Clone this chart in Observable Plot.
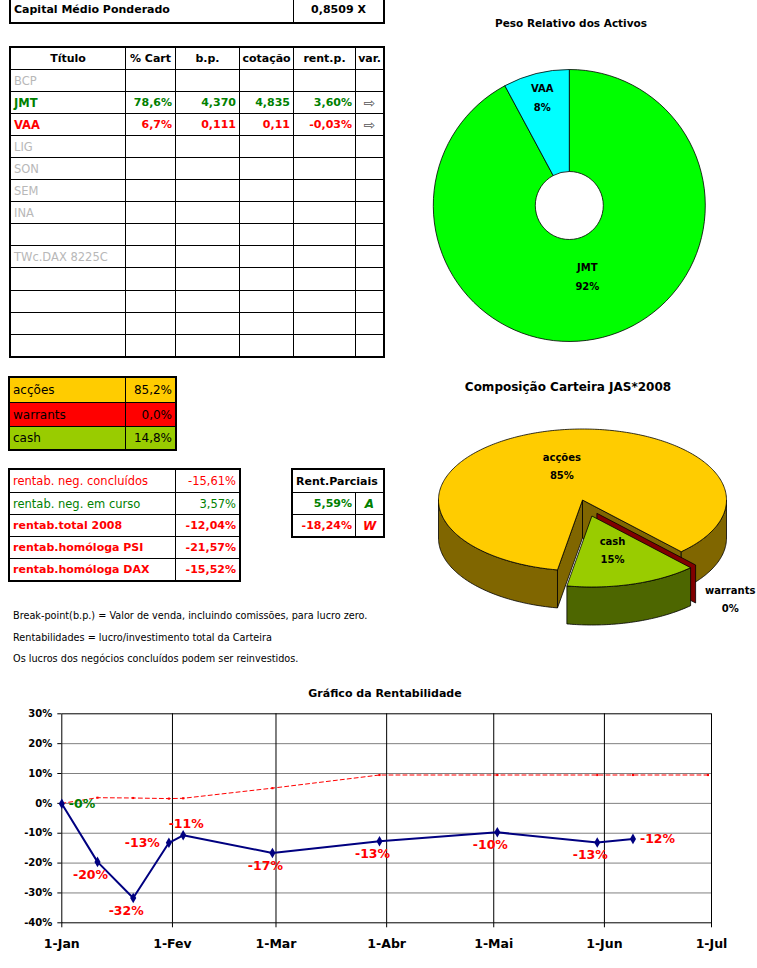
<!DOCTYPE html>
<html><head><meta charset="utf-8">
<script src="https://cdn.jsdelivr.net/npm/d3@7"></script>
<script src="https://cdn.jsdelivr.net/npm/@observablehq/plot@0.6"></script>
<style>
body{margin:0;background:#fff;}
#page{position:relative;width:757px;height:968px;overflow:hidden;font-family:"DejaVu Sans",sans-serif;background:#fff;}
.cell{position:absolute;box-sizing:border-box;border:1px solid #000;white-space:nowrap;overflow:hidden;padding:0 3px;display:flex;align-items:center;}
.frame{position:absolute;box-sizing:border-box;border:2px solid #000;pointer-events:none;}
.ttl{position:absolute;transform:translate(-50%,-50%);white-space:nowrap;font-weight:bold;color:#000;}
.note{position:absolute;left:13px;white-space:nowrap;font-size:9.7px;color:#000;transform:translateY(-50%);}
</style></head><body><div id="page"></div>
<script>
// ---------------- DATA ----------------
const capitalLabel = "Capital Médio Ponderado";
const capitalValue = "0,8509 X";

const tableHeader = ["Título", "% Cart", "b.p.", "cotação", "rent.p.", "var."];
const titles   = ["BCP", "JMT", "VAA", "LIG", "SON", "SEM", "INA", "", "TWc.DAX 8225C", "", "", "", ""];
const pctCart  = ["", "78,6%", "6,7%", "", "", "", "", "", "", "", "", "", ""];
const bpVals   = ["", "4,370", "0,111", "", "", "", "", "", "", "", "", "", ""];
const cotacao  = ["", "4,835", "0,11", "", "", "", "", "", "", "", "", "", ""];
const rentP    = ["", "3,60%", "-0,03%", "", "", "", "", "", "", "", "", "", ""];
const varSign  = ["", "⇨", "⇨", "", "", "", "", "", "", "", "", "", ""];

const allocLabels = ["acções", "warrants", "cash"];
const allocValues = [85.2, 0.0, 14.8];

const rentLabels = ["rentab. neg. concluídos", "rentab. neg. em curso", "rentab.total 2008", "rentab.homóloga PSI", "rentab.homóloga DAX"];
const rentValues = [-15.61, 3.57, -12.04, -21.57, -15.52];

const parcTitle = "Rent.Parciais";
const parcValues = [5.59, -18.24];
const parcCodes = ["A", "W"];

const notes = [
  "Break-point(b.p.) = Valor de venda, incluindo comissões, para lucro zero.",
  "Rentabilidades = lucro/investimento total da Carteira",
  "Os lucros dos negócios concluídos podem ser reinvestidos."
];

const donutTitle = "Peso Relativo dos Activos";
const assetNames = ["JMT", "VAA"];
const assetWeights = [78.6, 6.7];

const compTitle = "Composição Carteira JAS*2008";
const compNames = ["acções", "warrants", "cash"];
const compValues = [85.2, 0.0, 14.8];

const chartTitle = "Gráfico da Rentabilidade";
const rentDates  = ["2008-01-01","2008-01-11","2008-01-21","2008-01-31","2008-02-04","2008-02-29","2008-03-30","2008-05-02","2008-05-30","2008-06-09"];
const rentSeries = [-0.001, -0.196, -0.317, -0.132, -0.107, -0.166, -0.127, -0.097, -0.131, -0.119];
const rentPointLabels = ["-0%","-20%","-32%","-13%","-11%","-17%","-13%","-10%","-13%","-12%"];
const labelPlace = ["right","below","below","left","above","below","below","below","below","right"];
const benchDates  = ["2008-01-01","2008-01-11","2008-01-21","2008-01-31","2008-02-04","2008-02-29","2008-03-30","2008-05-02","2008-05-30","2008-06-09","2008-06-30"];
const benchSeries = [0.000, 0.019, 0.018, 0.016, 0.017, 0.051, 0.095, 0.095, 0.095, 0.095, 0.095];
const monthStarts = ["2008-01-01","2008-02-01","2008-03-01","2008-04-01","2008-05-01","2008-06-01","2008-07-01"];
const monthLabels = ["1-Jan","1-Fev","1-Mar","1-Abr","1-Mai","1-Jun","1-Jul"];
const yTicks = [-0.4,-0.3,-0.2,-0.1,0,0.1,0.2,0.3];
const yTickLabels = ["-40%","-30%","-20%","-10%","0%","10%","20%","30%"];

// ---------------- HELPERS ----------------
const page = document.getElementById("page");
const GREEN = "#008000", RED = "#ff0000", GRAY = "#b8b8b8";
const fmtPct2 = v => v.toFixed(2).replace(".", ",") + "%";
const fmtPct1 = v => v.toFixed(1).replace(".", ",") + "%";

function div(cls, css, text) {
  const d = document.createElement("div");
  if (cls) d.className = cls;
  Object.assign(d.style, css);
  if (text != null) d.textContent = text;
  page.appendChild(d);
  return d;
}
function grid(xsIn, ysIn, rows) {
  const xs = xsIn.map(Math.round), ys = ysIn.map(Math.round);
  rows.forEach((row, j) => {
    let i = 0;
    row.forEach(c => {
      const span = c.span || 1;
      const x0 = xs[i], x1 = xs[i + span], y0 = ys[j], y1 = ys[j + 1];
      div("cell", {
        left: x0 + "px", top: y0 + "px", width: (x1 - x0 + 1) + "px", height: (y1 - y0 + 1) + "px",
        justifyContent: c.align === "right" ? "flex-end" : c.align === "center" ? "center" : "flex-start",
        color: c.color || "#000", fontWeight: c.bold ? "bold" : "normal", fontSize: (c.size || 11) + "px",
        background: c.bg || "transparent", fontStyle: c.italic ? "italic" : "normal"
      }, c.text || "");
      i += span;
    });
  });
  div("frame", {left: (xs[0] - 1) + "px", top: (ys[0] - 1) + "px",
    width: (xs[xs.length - 1] - xs[0] + 3) + "px", height: (ys[ys.length - 1] - ys[0] + 3) + "px"});
}

// ---------------- TABLES ----------------
grid([10, 293, 383], [-4, 22], [[
  {text: capitalLabel, bold: true, size: 11},
  {text: capitalValue, bold: true, size: 11, align: "center"}
]]);

const mainXs = [10, 125, 175, 239, 293, 355, 383];
const mainYs = [47, 69]; for (let k = 1; k <= titles.length; k++) mainYs.push(69 + k * 22.05);
const mainRows = [tableHeader.map(h => ({text: h, bold: true, align: "center", size: 11}))];
titles.forEach((t, j) => {
  const col = rentP[j] === "" ? GRAY : (rentP[j].startsWith("-") ? RED : GREEN);
  mainRows.push([
    {text: t, color: col, bold: rentP[j] !== "", size: 11.5},
    {text: pctCart[j], color: col, bold: true, align: "right"},
    {text: bpVals[j], color: col, bold: true, align: "right"},
    {text: cotacao[j], color: col, bold: true, align: "right"},
    {text: rentP[j], color: col, bold: true, align: "right"},
    {text: varSign[j], color: "#555", align: "center", size: 14}
  ]);
});
grid(mainXs, mainYs, mainRows);

const allocColors = {"acções": "#ffcc00", "warrants": "#ff0000", "cash": "#99cc00"};
grid([9, 125, 175], [377, 402, 426, 449],
  allocLabels.map((l, i) => [
    {text: l, bg: allocColors[l], size: 12},
    {text: fmtPct1(allocValues[i]), bg: allocColors[l], size: 12, align: "right"}
  ]));

const rentBold = [false, false, true, true, true];
grid([9, 175, 239], [469, 492, 514, 536, 558, 580],
  rentLabels.map((l, i) => {
    const col = rentValues[i] < 0 ? RED : GREEN;
    return [
      {text: l, color: col, bold: rentBold[i], size: rentBold[i] ? 11 : 11.5},
      {text: fmtPct2(rentValues[i]), color: col, bold: rentBold[i], size: rentBold[i] ? 11 : 11.5, align: "right"}
    ];
  }));

grid([292, 355, 383], [469, 492, 514, 536], [
  [{text: parcTitle, bold: true, span: 2, size: 11}],
  ...parcValues.map((v, i) => {
    const col = v < 0 ? RED : GREEN;
    return [{text: fmtPct2(v), color: col, bold: true, align: "right"},
            {text: parcCodes[i], color: col, bold: true, align: "center", italic: true, size: 12}];
  })
]);

[615, 637, 658].forEach((y, i) => div("note", {top: y + "px"}, notes[i]));

// ---------------- DONUT ----------------
div("ttl", {left: "571px", top: "23px", fontSize: "10.5px"}, donutTitle);
{
  const svg = d3.select(page).append("svg").attr("width", 337).attr("height", 360)
    .style("position", "absolute").style("left", "420px").style("top", "0px");
  const total = d3.sum(assetWeights);
  const data = assetNames.map((n, i) => ({name: n, v: assetWeights[i]}));
  const arcs = d3.pie().sort(null).value(d => d.v)(data);
  const arc = d3.arc().innerRadius(34).outerRadius(136);
  const colors = {JMT: "#00ff00", VAA: "#00ffff"};
  const g = svg.append("g").attr("transform", "translate(149.3,205.5)");
  g.selectAll("path").data(arcs).join("path").attr("d", arc)
    .attr("fill", d => colors[d.data.name]).attr("stroke", "#000").attr("stroke-width", 0.8);
  arcs.forEach(a => {
    const r = (a.endAngle - a.startAngle) < 0.6 ? 111 : 74;
    const m = (a.startAngle + a.endAngle) / 2;
    const x = r * Math.sin(m), y = -r * Math.cos(m);
    const t = g.append("text").attr("text-anchor", "middle").attr("font-weight", "bold")
      .attr("font-size", 10).attr("font-family", "DejaVu Sans");
    t.append("tspan").attr("x", x).attr("y", y - 6).text(a.data.name);
    t.append("tspan").attr("x", x).attr("y", y + 13).text(Math.round(a.data.v / total * 100) + "%");
  });
}

// ---------------- 3D PIE ----------------
div("ttl", {left: "568px", top: "387px", fontSize: "12px"}, compTitle);
{
  const ox = 420, oy = 370;
  const svg = d3.select(page).append("svg").attr("width", 337).attr("height", 260)
    .style("position", "absolute").style("left", ox + "px").style("top", oy + "px");
  const cx = 582.5 - ox, cy = 500 - oy, rx = 144, ry = 71, depth = 38;
  const firstAngle = 190;
  const explodeOffset = {"acções": [0, 0], "warrants": [14.4, 13.3], "cash": [9.4, 16]};
  const topC = {"acções": "#ffcc00", "warrants": "#ff0000", "cash": "#99cc00"};
  const sideC = {"acções": "#806600", "warrants": "#800000", "cash": "#4d6600"};
  const total = d3.sum(compValues);
  let acc = firstAngle;
  const rad = Math.PI / 180;
  const slices = compNames.map((n, i) => {
    const span = compValues[i] / total * 360, a0 = acc, a1 = acc + span; acc = a1;
    return {name: n, v: compValues[i], a0, a1, mid: (a0 + a1) / 2, off: explodeOffset[n]};
  });
  const P = (s, th, r, h) => [cx + s.off[0] + rx * r * Math.sin(th * rad), cy + s.off[1] - ry * r * Math.cos(th * rad) + h * depth];
  const arcPts = (s, a, b, h) => { const n = Math.max(2, Math.ceil(Math.abs(b - a))); return d3.range(n + 1).map(k => P(s, a + (b - a) * k / n, 1, h)); };
  const poly = pts => "M" + pts.map(p => p[0].toFixed(2) + "," + p[1].toFixed(2)).join("L") + "Z";
  const draw = (d, fill) => svg.append("path").attr("d", d).attr("fill", fill).attr("stroke", "#000").attr("stroke-width", 0.8).attr("stroke-linejoin", "round");
  ["acções", "warrants", "cash"].forEach(name => {
    const s = slices.find(q => q.name === name);
    if (Math.sin(s.a0 * rad) < 0 && s.a1 > s.a0) draw(poly([P(s, s.a0, 0, 0), P(s, s.a0, 1, 0), P(s, s.a0, 1, 1), P(s, s.a0, 0, 1)]), sideC[name]);
    if (Math.sin(s.a1 * rad) > 0) draw(poly([P(s, s.a1, 0, 0), P(s, s.a1, 1, 0), P(s, s.a1, 1, 1), P(s, s.a1, 0, 1)]), sideC[name]);
    [[90, 270], [450, 630]].forEach(([w0, w1]) => {
      const lo = Math.max(s.a0, w0), hi = Math.min(s.a1, w1);
      if (hi > lo) draw(poly(arcPts(s, lo, hi, 0).concat(arcPts(s, hi, lo, 1))), sideC[name]);
    });
    if (s.a1 > s.a0) draw(poly([P(s, s.a0, 0, 0)].concat(arcPts(s, s.a0, s.a1, 0))), topC[name]);
  });
  slices.forEach(s => {
    const p = s.v > 0 ? P(s, s.mid, 0.5, 0) : P(s, s.mid, 1.35, 0.43);
    const t = svg.append("text").attr("text-anchor", "middle").attr("font-weight", "bold")
      .attr("font-size", 10).attr("font-family", "DejaVu Sans");
    t.append("tspan").attr("x", p[0]).attr("y", p[1] - 5).text(s.name);
    t.append("tspan").attr("x", p[0]).attr("y", p[1] + 13).text(Math.round(s.v / total * 100) + "%");
  });
}

// ---------------- LINE CHART ----------------
div("ttl", {left: "385px", top: "693px", fontSize: "11px"}, chartTitle);
{
  const parse = d3.utcParse("%Y-%m-%d");
  const rentData = rentDates.map((d, i) => ({date: parse(d), v: rentSeries[i], label: rentPointLabels[i], place: labelPlace[i]}));
  const benchData = benchDates.map((d, i) => ({date: parse(d), v: benchSeries[i]}));
  const months = monthStarts.map(parse);
  const placeOff = {
    right: {dx: 7, dy: 0, anchor: "start"},
    left: {dx: -9, dy: 0, anchor: "end"},
    above: {dx: 3, dy: -11, anchor: "middle"},
    below: {dx: -7, dy: 13, anchor: "middle"}
  };
  const chart = Plot.plot({
    width: 757, height: 288,
    marginTop: 33.3, marginLeft: 61.3, marginRight: 46, marginBottom: 45.7,
    style: {fontFamily: "DejaVu Sans", fontWeight: "bold", fontSize: "10px", background: "transparent", overflow: "visible", color: "#000"},
    x: {type: "utc", domain: [months[0], months[months.length - 1]]},
    y: {domain: [-0.4, 0.3]},
    color: {type: "identity"},
    marks: [
      Plot.gridY(yTicks.slice(1, -1), {stroke: "#808080", strokeOpacity: 1}),
      Plot.gridX(months.slice(1, -1), {stroke: "#000", strokeOpacity: 1}),
      Plot.frame({stroke: "#000"}),
      Plot.axisY(yTicks, {tickSize: 4, tickPadding: 5.5, tickFormat: d => yTickLabels[yTicks.findIndex(t => Math.abs(t - d) < 1e-9)], fontSize: 10, fontWeight: "bold", label: null}),
      Plot.axisX(months, {tickSize: 5, tickPadding: 11, tickFormat: d => monthLabels[months.findIndex(m => +m === +d)], fontSize: 12.5, fontWeight: "bold", label: null}),
      Plot.line(benchData, {x: "date", y: "v", stroke: "#ff0000", strokeWidth: 1, strokeDasharray: "4,3"}),
      Plot.dot(benchData, {x: "date", y: "v", symbol: "square", r: 1.2, fill: "#ff0000"}),
      Plot.line(rentData, {x: "date", y: "v", stroke: "#000080", strokeWidth: 2}),
      Plot.dot(rentData, {x: "date", y: "v", symbol: "diamond", r: 3.2, fill: "#000080"}),
      ...Object.entries(placeOff).map(([k, o]) => Plot.text(rentData.filter(d => d.place === k), {
        x: "date", y: "v", text: "label", dx: o.dx, dy: o.dy, textAnchor: o.anchor,
        fill: d => Math.round(d.v * 100) >= 0 ? GREEN : RED, fontSize: 12.5, fontWeight: "bold"
      }))
    ]
  });
  const holder = div(null, {position: "absolute", left: "0px", top: "680px", width: "757px", height: "288px"});
  holder.appendChild(chart);
}
</script></body></html>
